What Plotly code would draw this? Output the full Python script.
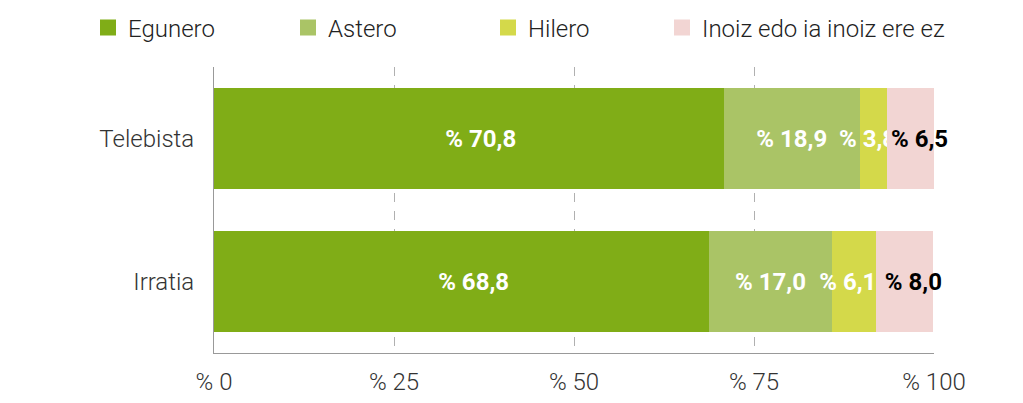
import plotly.graph_objects as go

categories = ['Telebista', 'Irratia']
series_names = ['Egunero', 'Astero', 'Hilero', 'Inoiz edo ia inoiz ere ez']
egunero = [70.8, 68.8]
astero = [18.9, 17.0]
hilero = [3.8, 6.1]
inoiz = [6.5, 8.0]
x_ticks = [0, 25, 50, 75, 100]
x_tick_labels = ['% 0', '% 25', '% 50', '% 75', '% 100']

colors = ['#80ad17', '#aac466', '#d4d94a', '#f2d5d3']
label_colors = ['white', 'white', 'white', 'black']
# labels in the original sit a little off the bar centre for some series
# (positive = nudge right, negative = nudge left)
label_pad = [4, 0, -2, 3]
legend_ids = ['legend', 'legend', 'legend', 'legend2']

# page body keeps an 8px margin, so the figure is drawn 8px smaller
W, H = 1015, 395


def fmt(v, pad=0):
    s = '% ' + f'{v:.1f}'.replace('.', ',')
    if pad > 0:
        return '\u00a0' * pad + s
    return s + '\u00a0' * (-pad)


fig = go.Figure()
for name, vals, col, lcol, pad in zip(series_names, [egunero, astero, hilero, inoiz],
                                      colors, label_colors, label_pad):
    fig.add_trace(go.Bar(
        y=categories,
        x=vals,
        name=name,
        orientation='h',
        showlegend=False,
        marker=dict(color=col, line=dict(width=0)),
        text=[fmt(v, pad) for v in vals],
        textposition='inside',
        insidetextanchor='middle',
        textangle=0,
        constraintext='none',
        cliponaxis=False,
        textfont=dict(family='Roboto', size=24, color=lcol, weight='bold'),
    ))

# legend entries with bigger square swatches
for name, col, lg in zip(series_names, colors, legend_ids):
    fig.add_trace(go.Scatter(
        x=[None], y=[None],
        mode='markers',
        name=name,
        legend=lg,
        marker=dict(symbol='square', size=16, color=col),
        hoverinfo='skip',
    ))

legend_font = dict(size=24, color='#222222', family='Roboto', weight=300)

fig.update_layout(
    width=W,
    height=H,
    barmode='stack',
    bargap=0.30,
    plot_bgcolor='white',
    paper_bgcolor='white',
    margin=dict(l=206, r=89, t=59, b=50),
    font=dict(family='Roboto', color='#333333'),
    legend=dict(
        orientation='h',
        x=80 / W, xanchor='left', xref='container',
        y=1 - 20 / H, yanchor='middle', yref='container',
        font=legend_font,
        entrywidth=155,
        traceorder='normal',
    ),
    legend2=dict(
        orientation='h',
        x=654 / W, xanchor='left', xref='container',
        y=1 - 20 / H, yanchor='middle', yref='container',
        font=legend_font,
    ),
    xaxis=dict(
        range=[0, 100],
        tickvals=x_ticks,
        ticktext=x_tick_labels,
        showgrid=True,
        gridcolor='#b0b0b0',
        griddash='dash',
        gridwidth=1,
        zeroline=False,
        showline=True,
        linecolor='#999999',
        linewidth=1,
        ticks='',
        automargin=False,
        ticklabelstandoff=7,
        tickfont=dict(size=24, color='#333333', family='Roboto', weight=300),
    ),
    yaxis=dict(
        categoryorder='array',
        categoryarray=categories[::-1],
        showline=True,
        linecolor='#999999',
        linewidth=1,
        showgrid=False,
        ticks='',
        automargin=False,
        ticklabelstandoff=14,
        tickfont=dict(size=24, color='#333333', family='Roboto', weight=300),
    ),
)

fig.write_html('out.html')
